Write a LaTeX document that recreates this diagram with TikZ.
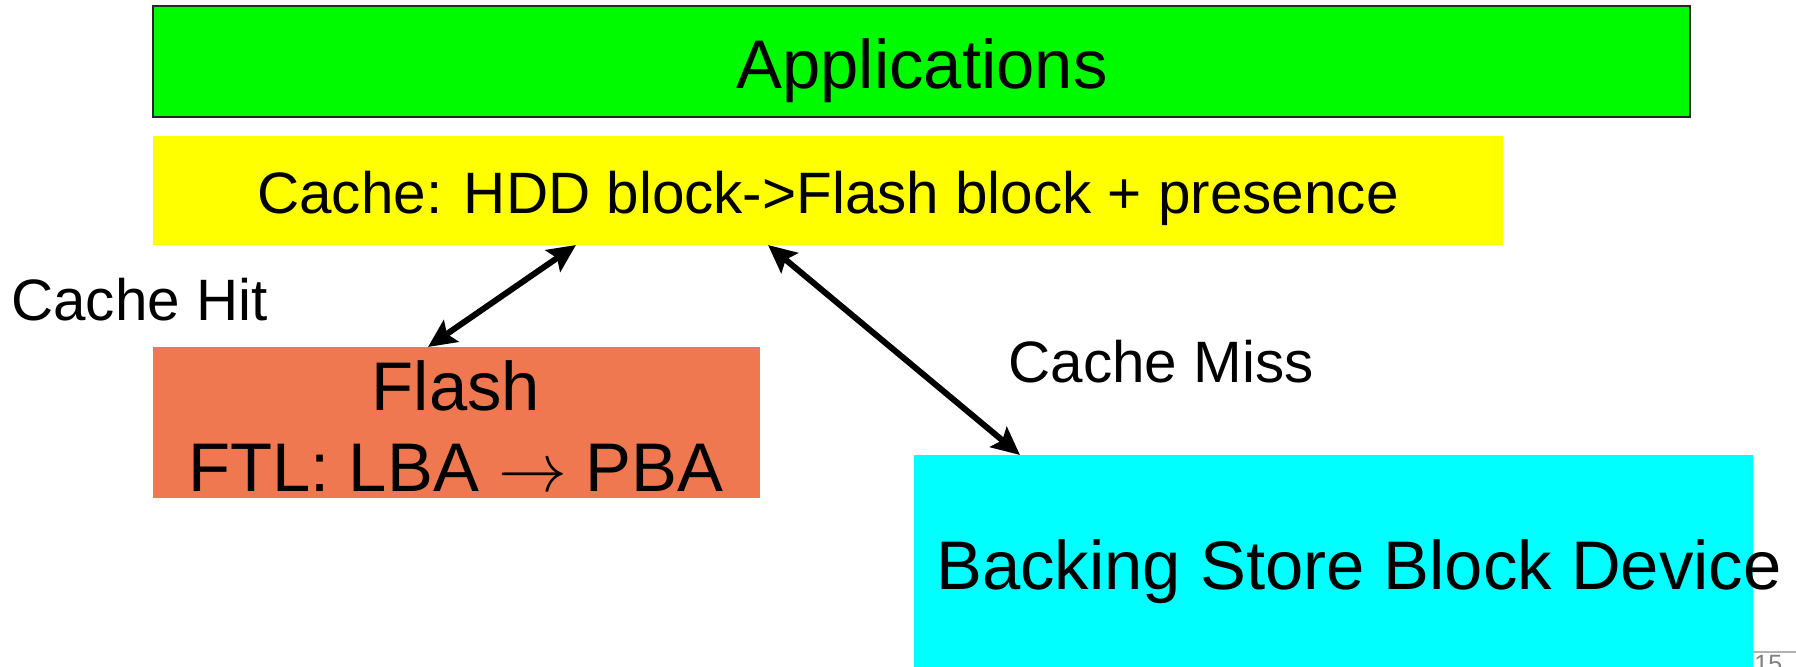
\RequirePackage{fix-cm}
\documentclass[tikz,border=0pt]{standalone}
\usepackage{fontspec}
\setmainfont{Liberation Sans}
\usetikzlibrary{calc,arrows.meta}
\definecolor{appgreen}{RGB}{0,250,0}
\definecolor{cacheyellow}{RGB}{255,255,0}
\definecolor{flashorange}{RGB}{240,120,80}
\definecolor{storecyan}{RGB}{0,255,255}
\begin{document}
\begin{tikzpicture}[x=0.5pt,y=-0.5pt,
  box/.style={rectangle, inner sep=0pt, outer sep=0pt, anchor=north west},
  txt/.style={inner sep=0pt, anchor=base},
  big/.style={font=\fontsize{34.4}{40.5}\selectfont},
  mid/.style={font=\fontsize{29.2}{35}\selectfont},
  tip/.tip={Stealth[length=14pt,width=13pt,inset=2.5pt]},
  arr/.style={line width=3pt, tip-tip}]
\useasboundingbox (0,0) rectangle (1796,667);
\node[box, fill=appgreen, draw=black!85, line width=0.6pt, minimum width=768.5pt, minimum height=55.5pt] (apps) at (153,6) {};
\node[txt, big] (appstxt) at (922,89) {Applications};
\node[box, fill=cacheyellow, minimum width=675pt, minimum height=54.5pt] (cache) at (153,136) {};
\node[txt, mid] (cachetxt) at (828,214) {Cache: HDD block->Flash block + presence};
\node[box, fill=flashorange, minimum width=303.5pt, minimum height=75.5pt] (flash) at (153,347) {};
\node[txt, big] (flashtxt) at (456,411) {Flash};
\node[txt, big] (ftltxt) at (456,492) {FTL: LBA $\rightarrow$ PBA};
\node[box, fill=storecyan, minimum width=419.5pt, minimum height=106pt] (store) at (914,455) {};
\node[txt, big, anchor=base west] (storetxt) at (936,590) {Backing Store Block Device};
\node[txt, mid] (hit) at (139.5,321) {Cache Hit};
\node[txt, mid] (miss) at (1161,383) {Cache Miss};
\draw[arr] ($(flash.north west)+(275,0)$) -- ($(cache.south west)+(423,0)$);
\draw[arr] ($(cache.south west)+(615,0)$) -- ($(store.north west)+(106,0)$);
\begin{scope}
\clip (0,0) rectangle (1796,667);
\coordinate (pgl) at (1753,652);
\coordinate (pgr) at (1796,652);
\draw[black!30, line width=1pt] (pgl) -- (pgr);
\node[anchor=north west, inner sep=0pt, text=black!50, font=\fontsize{12.5}{14}\selectfont] (pg) at (1754,655) {15};
\end{scope}
\end{tikzpicture}
\end{document}
